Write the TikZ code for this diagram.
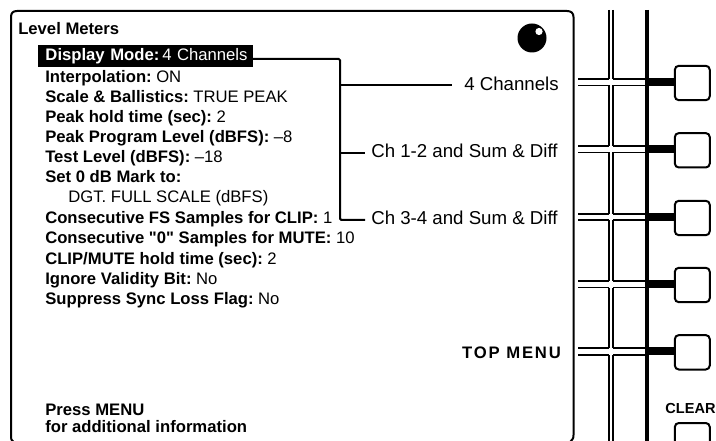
\documentclass[tikz,border=0pt]{standalone}
\usepackage{fontspec}
\setmainfont{Liberation Sans}
\newfontfamily\plainfam{Liberation Sans}
\tikzset{
 txt/.style={anchor=base west,inner sep=0pt,font=\fontsize{12.5}{14}\selectfont},
 lbl/.style={txt,font=\fontsize{14}{16}\selectfont},
 softkey/.style={draw,line width=1.5pt,rounded corners=3pt,minimum width=26.2pt,minimum height=25.8pt,inner sep=0pt},
 wire/.style={line width=1.5pt},
 stem/.style={line width=6.2pt},
 thin rail/.style={line width=1pt},
 hb/.style={fill=black,text=white,inner sep=0pt,minimum height=16.5pt,text width=161pt,align=left,anchor=west,font=\fontsize{12.5}{14}\selectfont}
}
\newcommand{\bv}[2]{\textbf{#1}\hspace{3.4pt}#2}
\newcommand{\sq}{{\plainfam\bfseries\symbol{34}}}
\begin{document}
\begin{tikzpicture}[x=0.75pt,y=-0.75pt]
\useasboundingbox (0,0) rectangle (716,441);
\clip (0,0) rectangle (716,441);
% screen
\draw[line width=1.5pt] (13.5,442) .. controls (11,440) and (11,439) .. (11,436) -- (11,17) .. controls (11,13) and (13,11) .. (17,11) -- (567,11) .. controls (571,11) and (573.5,13) .. (573.5,17) -- (573.5,435) .. controls (573.5,439) and (572,440) .. (570,442);
\node[txt] (title) at (18,35) {\textbf{Level Meters}};
\fill (532,38) circle (14.5);
\fill[white] (539,31.5) circle (3.6);
% menu
\node[hb] (dm) at (38,56.5) {\hspace{5.4pt}\textbf{Display Mode:}\hspace{2.2pt}4 Channels};
\node[txt] (m2) at (45,82.5) {\bv{Interpolation:}{ON}};
\node[txt] (m3) at (45,102.5) {\bv{Scale \& Ballistics:}{TRUE PEAK}};
\node[txt] (m4) at (45,122.5) {\bv{Peak hold time (sec):}{2}};
\node[txt] (m5) at (45,143) {\bv{Peak Program Level (dBFS):}{--8}};
\node[txt] (m6) at (45,163) {\bv{Test Level (dBFS):}{--18}};
\node[txt] (m7) at (45,183) {\textbf{Set 0 dB Mark to:}};
\node[txt] (m8) at (68,203) {DGT. FULL SCALE (dBFS)};
\node[txt] (m9) at (45,223.5) {\bv{Consecutive FS Samples for CLIP:}{1}};
\node[txt] (m10) at (45,244) {\bv{Consecutive \sq0\sq\ Samples for MUTE:}{10}};
\node[txt] (m11) at (45,264) {\bv{CLIP/MUTE hold time (sec):}{2}};
\node[txt] (m12) at (45,284) {\bv{Ignore Validity Bit:}{No}};
\node[txt] (m13) at (45,304) {\bv{Suppress Sync Loss Flag:}{No}};
\node[txt] (p1) at (45,415) {\textbf{Press MENU}};
\node[txt] (p2) at (45,432) {\textbf{for additional information}};
% option labels
\node[lbl] (o1) at (464,90.5) {4 Channels};
\node[lbl] (o2) at (371,157.5) {Ch 1-2 and Sum \& Diff};
\node[lbl] (o3) at (371,225) {Ch 3-4 and Sum \& Diff};
\node[txt,anchor=base east] (o5) at (563,358) {\addfontfeature{LetterSpace=11}\textbf{TOP MENU}};
\node[txt,font=\fontsize{10.9}{14}\selectfont,anchor=base] (clr) at (690.5,413) {\textbf{CLEAR}};
% connector
\coordinate (j1) at (340,85.5);
\coordinate (j2) at (340,153);
\coordinate (e1) at (o1.west|-j1);
\coordinate (e2) at (o2.west|-j2);
\coordinate (e3) at (o3.west|-0,220);
\draw[wire,rounded corners=1pt] (dm.east|-0,59) -- (340,59) -- (340,220) -- ([xshift=-4.5pt]e3);
\draw[wire] (j1) -- ([xshift=-9pt]e1);
\draw[wire] (j2) -- ([xshift=-4.5pt]e2);
% rails
\foreach \x in {609,613} {
 \draw[thin rail] (\x,10) -- (\x,79) (\x,85.5) -- (\x,146) (\x,152.5) -- (\x,214) (\x,220) -- (\x,281) (\x,287.5) -- (\x,348) (\x,355) -- (\x,441);
}
\foreach \y in {79,85.5,146,152.5,214,220,281,287.5,348,355} {
 \draw[thin rail] (578,\y) -- (609,\y) (613,\y) -- (646,\y);
}
\draw[line width=3pt] (646.5,10) -- (646.5,441);
% buttons
\foreach \n/\c in {1/83,2/150.3,3/218,4/285,5/352.3} {
 \node[softkey] (b\n) at (692.3,\c) {};
 \coordinate (s\n) at (648,\c-1);
 \draw[stem] (s\n) -- (s\n-|b\n.west);
}
\node[softkey,anchor=north] (b6) at (692.3,422) {};
\end{tikzpicture}
\end{document}
